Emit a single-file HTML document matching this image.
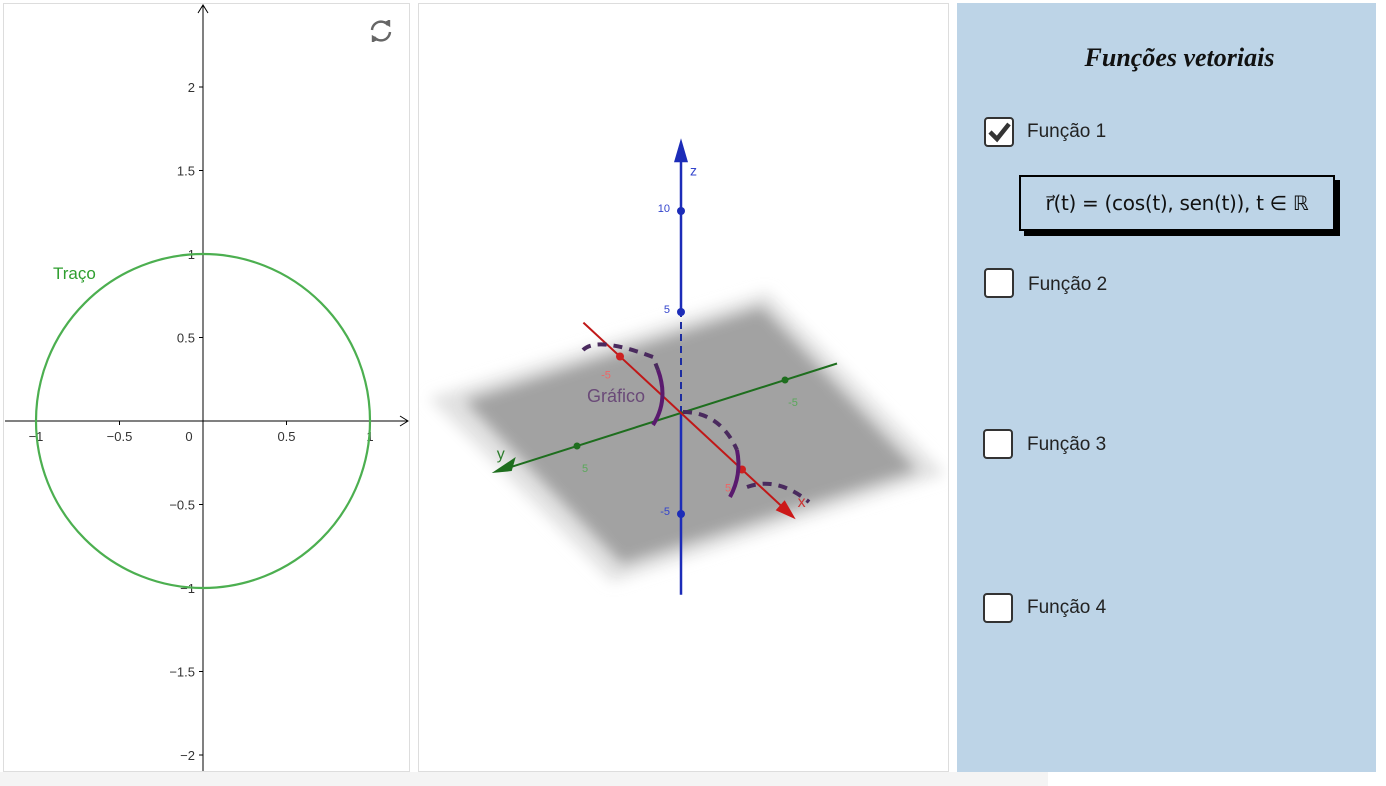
<!DOCTYPE html>
<html><head><meta charset="utf-8"><style>
body{margin:0;width:1386px;height:786px;background:#fff;position:relative;overflow:hidden;font-family:"Liberation Sans",sans-serif}
.cb{position:absolute;width:30px;height:30px;border:2px solid #333;border-radius:4px;background:#fff;box-sizing:border-box}
.lbl{position:absolute;font-size:19px;color:#222}
</style></head><body>
<div style="position:absolute;left:0;top:772px;width:1048px;height:14px;background:#f4f4f4"></div>
<svg width="410" height="772" style="position:absolute;left:0;top:0" id="g2">
<rect x="3.5" y="3.5" width="406" height="768" fill="#fff" stroke="#ddd"/>
</svg>
<svg width="532" height="772" style="position:absolute;left:417px;top:0" id="g3">
<rect x="1.5" y="3.5" width="530" height="768" fill="#fff" stroke="#ddd"/>
</svg>
<div style="position:absolute;left:957px;top:3px;width:419px;height:769px;background:#bdd4e7">
<div style="position:absolute;left:0;width:445px;top:40px;text-align:center;font:italic bold 26px 'Liberation Serif',serif;color:#111">Funções vetoriais</div>
<div class="cb" style="left:27px;top:114px"><svg width="26" height="26"><path d="M4 13 L11 20 L23 5" fill="none" stroke="#333" stroke-width="4.5"/></svg></div>
<div class="lbl" style="left:70px;top:118px">Função 1</div>
<div style="position:absolute;left:67px;top:177px;width:316px;height:56px;background:#000"></div>
<div style="position:absolute;left:62px;top:172px;width:316px;height:56px;border:2px solid #000;box-sizing:border-box;background:#bdd4e7;font:20px 'DejaVu Sans',sans-serif;text-align:center;line-height:52px;color:#111;letter-spacing:-0.3px">r⃗(t) = (cos(t), sen(t)), t ∈ ℝ</div>
<div class="cb" style="left:27px;top:265px"></div>
<div class="lbl" style="left:71px;top:271px">Função 2</div>
<div class="cb" style="left:26px;top:426px"></div>
<div class="lbl" style="left:70px;top:431px">Função 3</div>
<div class="cb" style="left:26px;top:590px"></div>
<div class="lbl" style="left:70px;top:594px">Função 4</div>
</div>
<script>
const NS="http://www.w3.org/2000/svg";
function mk(p,t,a,txt){const e=document.createElementNS(NS,t);for(const k in a)e.setAttribute(k,a[k]);if(txt!==undefined)e.textContent=txt;p.appendChild(e);return e;}
// 2D chart data
const xTicks=[-1,-0.5,0.5,1];
const yTicks=[2,1.5,1,0.5,-0.5,-1,-1.5,-2];
const circleRadius=[1];
const g2=document.getElementById('g2');
const ox=203,oy=421,sc=167;
const X=v=>ox+v*sc, Y=v=>oy-v*sc;
let e;
e=mk(g2,'line',{x1:5,y1:oy,x2:407,y2:oy,stroke:'#000','stroke-width':1});

e=mk(g2,'path',{d:`M400 ${oy-5} L408 ${oy} L400 ${oy+5}`,fill:'none',stroke:'#000'});
e=mk(g2,'line',{x1:ox,y1:771,x2:ox,y2:5,stroke:'#000','stroke-width':1});

mk(g2,'path',{d:`M${ox-5} 13 L${ox} 5 L${ox+5} 13`,fill:'none',stroke:'#000'});
const fmt=v=>(v<0?'\u2212':'')+Math.abs(v);
xTicks.forEach(v=>{mk(g2,'line',{x1:X(v),y1:oy,x2:X(v),y2:oy+4,stroke:'#000'});
 e=mk(g2,'text',{x:X(v),y:oy+20,'text-anchor':'middle','font-size':13,fill:'#333'},fmt(v));
 });
mk(g2,'text',{x:ox-14,y:oy+20,'text-anchor':'middle','font-size':13,fill:'#333'},'0');
yTicks.forEach(v=>{mk(g2,'line',{x1:ox-4,y1:Y(v),x2:ox,y2:Y(v),stroke:'#000'});
 e=mk(g2,'text',{x:ox-8,y:Y(v)+5,'text-anchor':'end','font-size':13,fill:'#333'},fmt(v));
 });
e=mk(g2,'circle',{cx:X(0),cy:Y(0),r:circleRadius[0]*sc,fill:'none',stroke:'#4caf50','stroke-width':2.2});

e=mk(g2,'text',{x:53,y:279,'font-size':17,fill:'#2e9e2e'},'Traço');

e=mk(g2,'g',{transform:'translate(381,31)',fill:'none',stroke:'#666','stroke-width':2.4});

mk(e,'path',{d:'M-9 -1 A9 9 0 0 1 7 -6'});mk(e,'path',{d:'M9 1 A9 9 0 0 1 -7 6'});
mk(e,'path',{d:'M3 -9 L8 -6 L8 -11',fill:'#666'});mk(e,'path',{d:'M-3 9 L-8 6 L-8 11',fill:'#666'});

// 3D view
const zTicks=[10,5,-5];
const axTicks=[-5,5];
const g3=document.getElementById('g3');
const O=[264,413], ex=[12.2,11.3], ey=[-20.8,6.6], ez=[0,-20.2];
const P=(x,y,z)=>[O[0]+x*ex[0]+y*ey[0]+z*ez[0], O[1]+x*ex[1]+y*ey[1]+z*ez[1]];
const defs=mk(g3,'defs',{});const f=mk(defs,'filter',{id:'bl',x:'-20%',y:'-20%',width:'140%',height:'140%'});mk(f,'feGaussianBlur',{stdDeviation:7});
e=mk(g3,'polygon',{points:'12,398 350,292 528,474 195,582',fill:'#e2e2e2',filter:'url(#bl)'});
e=mk(g3,'polygon',{points:'48,401 345,307 500,470 205,564',fill:'#a2a2a2',filter:'url(#bl)'});

// z axis
mk(g3,'line',{x1:P(0,0,0)[0],y1:P(0,0,0)[1],x2:P(0,0,5)[0],y2:P(0,0,5)[1],stroke:'#1c2ca0','stroke-width':2,'stroke-dasharray':'7,5'});
e=mk(g3,'line',{x1:P(0,0,5)[0],y1:P(0,0,5)[1],x2:P(0,0,12.8)[0],y2:P(0,0,12.8)[1],stroke:'#1c2cb8','stroke-width':2.5});
mk(g3,'line',{x1:P(0,0,0)[0],y1:P(0,0,0)[1],x2:P(0,0,-9)[0],y2:P(0,0,-9)[1],stroke:'#1c2cb8','stroke-width':2.5});
const zt=P(0,0,13.5);mk(g3,'path',{d:`M${zt[0]} ${zt[1]-2} L${zt[0]-7} ${zt[1]+22} L${zt[0]+7} ${zt[1]+22}Z`,fill:'#1c2cb8'});
mk(g3,'text',{x:zt[0]+9,y:zt[1]+35,'font-size':14,fill:'#3344cc'},'z');
zTicks.forEach(v=>{const p=P(0,0,v);mk(g3,'circle',{cx:p[0],cy:p[1],r:4,fill:'#1c2cb8'});
 e=mk(g3,'text',{x:p[0]-11,y:p[1]+1,'text-anchor':'end','font-size':11,fill:'#3344cc'},String(v));
 });
// y axis
const ya=P(0,-7.5,0), yb=P(0,8.3,0);
e=mk(g3,'line',{x1:ya[0],y1:ya[1],x2:yb[0],y2:yb[1],stroke:'#1e6e1e','stroke-width':2});

const yt=P(0,9.1,0);mk(g3,'path',{d:`M${yt[0]} ${yt[1]} L${yt[0]+24} ${yt[1]-16} L${yt[0]+20} ${yt[1]-2}Z`,fill:'#1e6e1e'});
mk(g3,'text',{x:yt[0]+5,y:yt[1]-14,'font-size':16,fill:'#2e7e2e'},'y');
axTicks.forEach(v=>{const p=P(0,v,0);mk(g3,'circle',{cx:p[0],cy:p[1],r:3.5,fill:'#1e6e1e'});
 mk(g3,'text',{x:p[0]+8,y:p[1]+26,'text-anchor':'middle','font-size':11,fill:'#5aa85a'},String(v));});
// x axis
const xa=P(-8,0,0), xb=P(8.5,0,0);
e=mk(g3,'line',{x1:xa[0],y1:xa[1],x2:xb[0],y2:xb[1],stroke:'#c01818','stroke-width':2});

const xt=P(9.4,0,0);mk(g3,'path',{d:`M${xt[0]} ${xt[1]} L${xt[0]-20} ${xt[1]-9} L${xt[0]-11} ${xt[1]-19}Z`,fill:'#cc1818'});
mk(g3,'text',{x:xt[0]+2,y:xt[1]-12,'font-size':16,fill:'#cc3333'},'x');
axTicks.forEach(v=>{const p=P(v,0,0);mk(g3,'circle',{cx:p[0],cy:p[1],r:4,fill:'#cc2020'});
 mk(g3,'text',{x:p[0]-14,y:p[1]+22,'text-anchor':'middle','font-size':11,fill:'#ee6666'},String(v));});
// curve arcs
const arcs=[['M166 350 Q180 336 236 357 L241 370',1],['M241 370 Q252 400 236 425',0],['M266 412 Q303 412 320 450',1],['M320 450 Q325 475 313 497',0],['M330 487 Q360 476 392 502',1]];
arcs.forEach(a=>{e=mk(g3,'path',{d:a[0],fill:'none',stroke:a[1]?'#4a2a5e':'#5a1a6e','stroke-width':4,'stroke-dasharray':a[1]?'9,7':'none'});
 });
e=mk(g3,'text',{x:170,y:402,'font-size':18,fill:'#6a4a78'},'Gráfico');

</script>
</body></html>
